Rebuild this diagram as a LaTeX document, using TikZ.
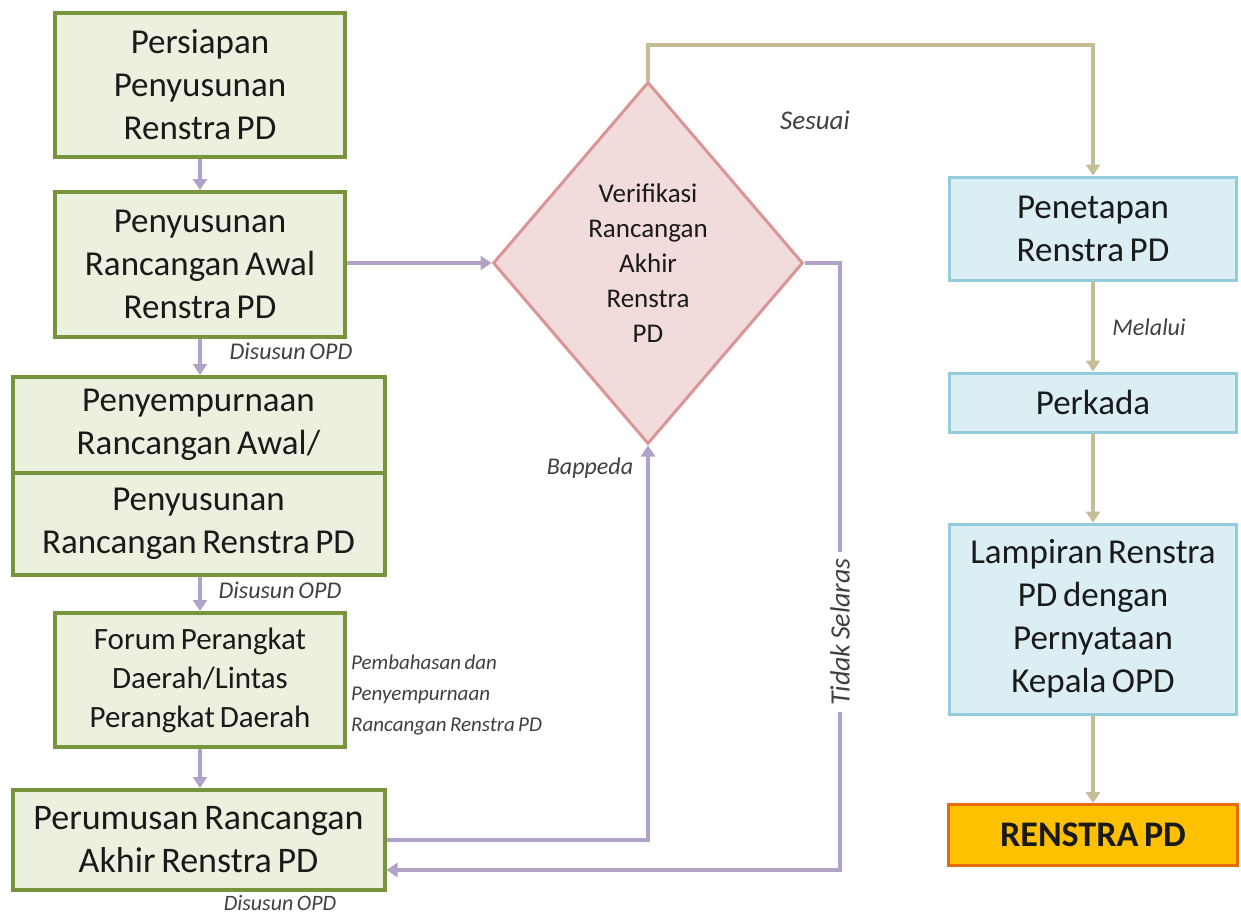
\documentclass[tikz,border=0pt]{standalone}
\usepackage{fontspec}
\setmainfont{Carlito}[WordSpace=0.7]
\usetikzlibrary{arrows.meta,shapes.geometric}
\definecolor{gborder}{HTML}{77933C}
\definecolor{gfill}{HTML}{EBF1DE}
\definecolor{dborder}{HTML}{D99694}
\definecolor{dfill}{HTML}{F2DCDB}
\definecolor{bborder}{HTML}{93CDDD}
\definecolor{bfill}{HTML}{DBEEF4}
\definecolor{oborder}{HTML}{E46C0A}
\definecolor{ofill}{HTML}{FFC000}
\definecolor{purp}{HTML}{B3A2C7}
\definecolor{olive}{HTML}{C4BD97}
\definecolor{txt}{HTML}{1A1A1A}
\definecolor{ltxt}{HTML}{404040}
\tikzset{
  gbox/.style={draw=gborder, fill=gfill, line width=4pt, align=center, text=txt,
    font=\fontsize{35}{43}\selectfont, inner sep=0pt},
  bbox/.style={draw=bborder, fill=bfill, line width=3pt, align=center, text=txt,
    font=\fontsize{35}{43}\selectfont, inner sep=0pt, minimum width=287},
  parr/.style={draw=purp, line width=4pt, -{Triangle[length=11pt,width=14pt]}},
  oarr/.style={draw=olive, line width=3.5pt, -{Triangle[length=11pt,width=14pt]}},
  lbl/.style={text=ltxt, font=\fontsize{24}{31}\selectfont\itshape, inner sep=1pt}
}
\begin{document}
\begin{tikzpicture}[x=1pt,y=-1pt]
\useasboundingbox[fill=white] (0,0) rectangle (1241,916);
% left column
\node[gbox, minimum width=290, minimum height=144] (b1) at (200,85) {Persiapan\\Penyusunan\\Renstra PD};
\node[gbox, minimum width=290, minimum height=145] (b2) at (200,264.5) {Penyusunan\\Rancangan Awal\\Renstra PD};
\node[gbox, minimum width=372, minimum height=96] (b3a) at (198.5,425) {Penyempurnaan\\Rancangan Awal/};
\node[gbox, minimum width=372, minimum height=102] (b3b) at (198.5,524) {Penyusunan\\Rancangan Renstra PD};
\node[gbox, minimum width=290, minimum height=134, font=\fontsize{31}{39}\selectfont] (b4) at (200,680) {Forum Perangkat\\Daerah/Lintas\\Perangkat Daerah};
\node[gbox, minimum width=372, minimum height=100, font=\fontsize{36}{43}\selectfont] (b5) at (198.5,840) {Perumusan Rancangan\\Akhir Renstra PD};
% diamond
\node[diamond, draw=dborder, fill=dfill, line width=3pt, minimum width=310, minimum height=362,
  inner sep=0pt, align=center, text=txt, font=\fontsize{27}{35}\selectfont] (dia) at (648,263)
  {Verifikasi\\Rancangan\\Akhir\\Renstra\\PD};
% right column
\node[bbox, minimum height=103] (pen) at (1093,228.5) {Penetapan\\Renstra PD};
\node[bbox, minimum height=59] (per) at (1093,402.5) {Perkada};
\node[bbox, minimum height=190] (lam) at (1093,619) {Lampiran Renstra\\PD dengan\\Pernyataan\\Kepala OPD};
\node[draw=oborder, fill=ofill, line width=3pt, minimum width=289, minimum height=61, inner sep=0pt,
  text=txt, font=\fontsize{36}{40}\selectfont\bfseries] (ren) at (1093,835) {RENSTRA PD};
% left column connectors
\draw[parr] (b1.south) -- (b2.north);
\draw[parr] (b2.south) -- (b2.south |- b3a.north);
\draw[parr] (b3b.south -| b4.north) -- (b4.north);
\draw[parr] (b4.south) -- (b4.south |- b5.north);
\draw[parr] (b2.east |- dia.west) -- (dia.west);
\draw[parr] (b5.east |- 0,840) -| (dia.south);
\coordinate (tsA) at (840,263);
\coordinate (tsB) at (840,870);
\draw[parr] (dia.east) -- (tsA) -- (tsB) -- (b5.east |- tsB);
% right column connectors
\coordinate (topL) at (648,45);
\coordinate (topR) at (1093,45);
\draw[oarr] (dia.north) -- (topL) -- (topR) -- (pen.north);
\draw[oarr] (pen.south) -- (per.north);
\draw[oarr] (per.south) -- (lam.north);
\draw[oarr] (lam.south) -- (ren.north);
% labels
\node[lbl] (l1) at (291,351) {Disusun OPD};
\node[lbl] (l2) at (280,590) {Disusun OPD};
\node[lbl, font=\fontsize{22}{28}\selectfont\itshape, inner sep=0pt] (l3) at (280,903) {Disusun OPD};
\node[lbl, font=\fontsize{21}{31}\selectfont\itshape, align=left, anchor=west] (l4) at (350,695) {Pembahasan dan\\Penyempurnaan\\Rancangan Renstra PD};
\node[lbl, font=\fontsize{27}{30}\selectfont\itshape] (l5) at (815,120) {Sesuai};
\node[lbl] (l6) at (590,468) {Bappeda};
\node[lbl] (l7) at (1149,327) {Melalui};
\node[lbl, font=\fontsize{28}{30}\selectfont\itshape, fill=white, rotate=90, inner sep=6pt] (l8) at (840,632) {Tidak Selaras};
\end{tikzpicture}
\end{document}
